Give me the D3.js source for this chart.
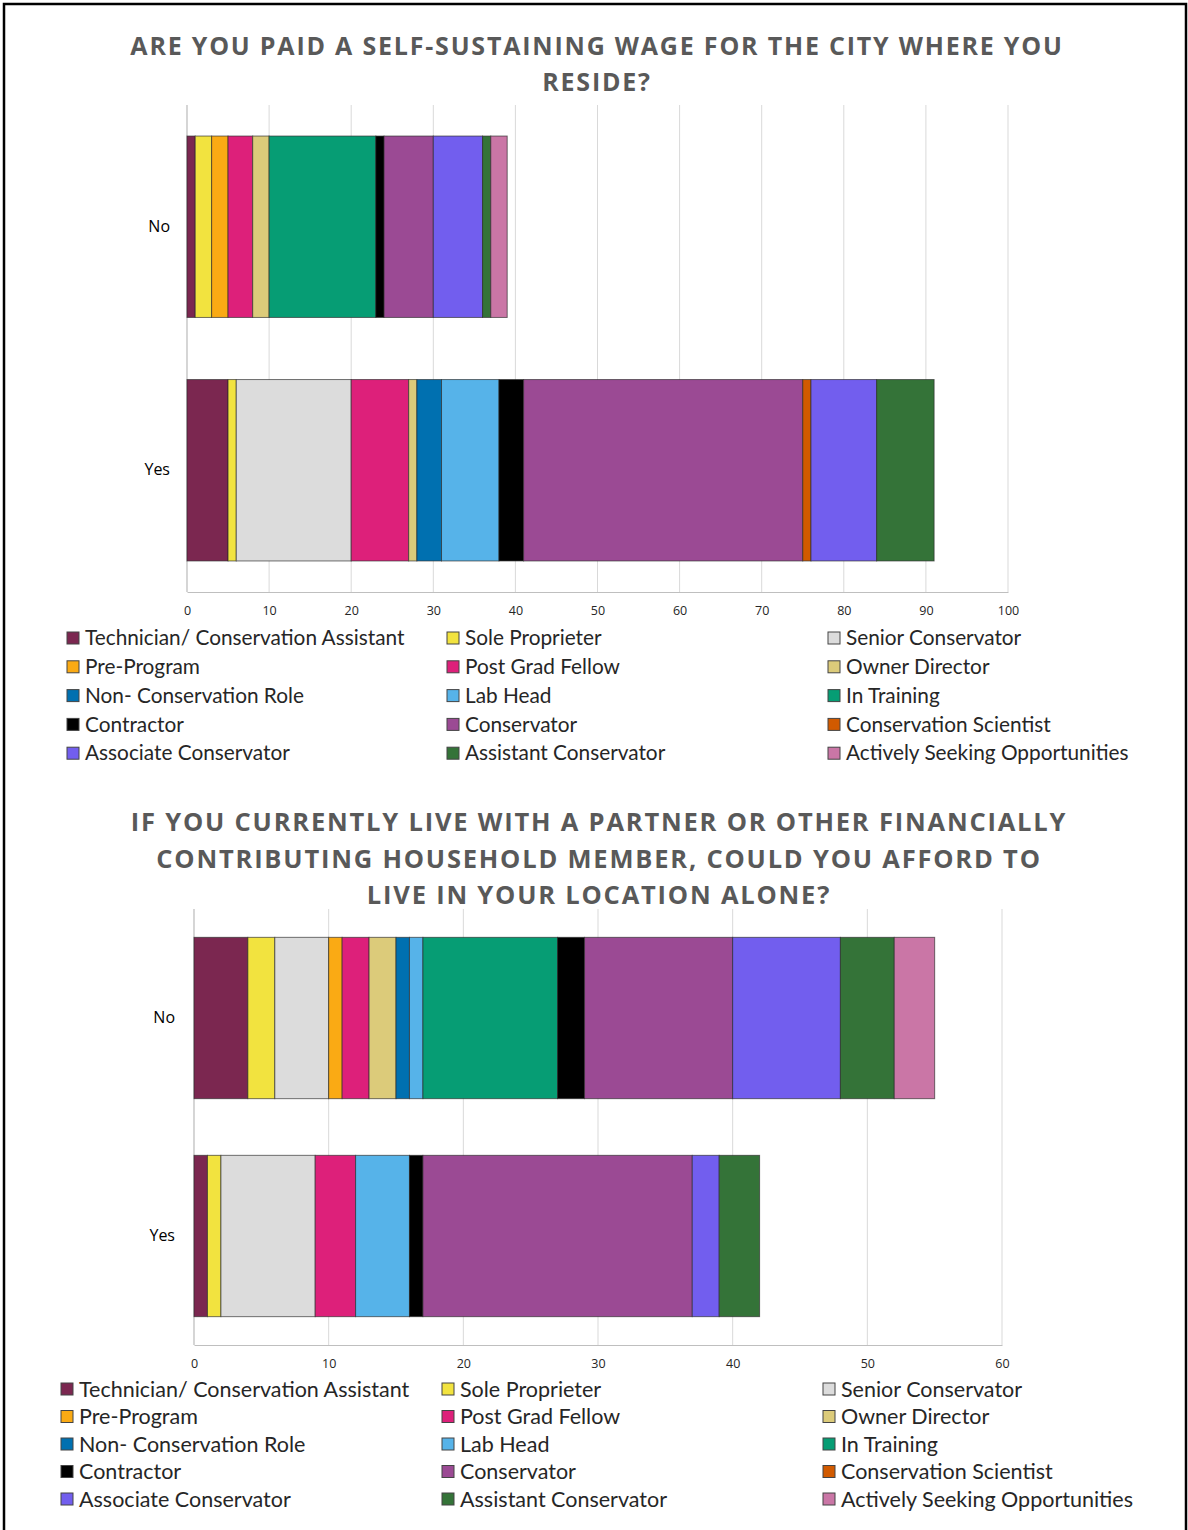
<!DOCTYPE html>
<html>
<head>
<meta charset="utf-8">
<script src="https://cdn.jsdelivr.net/npm/d3@7"></script>
<style>
  html, body { margin: 0; padding: 0; background: #fff; }
  svg { display: block; }
  .title { font-family: "Open Sans", sans-serif; font-weight: 700; fill: #595959; }
  .tick text { font-family: "Open Sans", sans-serif; }
  .legend text { font-family: Lato, "Open Sans", sans-serif; fill: #262626; }
</style>
</head>
<body>
<script>
// Job roles, in stacking / legend order
const roles = [
  "Technician/ Conservation Assistant", "Sole Proprieter", "Senior Conservator",
  "Pre-Program", "Post Grad Fellow", "Owner Director",
  "Non- Conservation Role", "Lab Head", "In Training",
  "Contractor", "Conservator", "Conservation Scientist",
  "Associate Conservator", "Assistant Conservator", "Actively Seeking Opportunities"
];
const roleColors = [
  "#7b2750", "#f2e33f", "#dcdcdc",
  "#faaa14", "#dd207a", "#dccb7a",
  "#0070b0", "#56b3e9", "#069d74",
  "#000000", "#9b4a94", "#d15a00",
  "#725eee", "#347338", "#ca76a6"
];
const answers = ["No", "Yes"];

// Q1: paid a self-sustaining wage
const wageNo  = [1, 2, 0, 2, 3, 2, 0, 0, 13, 1, 6, 0, 6, 1, 2];
const wageYes = [5, 1, 14, 0, 7, 1, 3, 7, 0, 3, 34, 1, 8, 7, 0];
const wageTicks = [0, 10, 20, 30, 40, 50, 60, 70, 80, 90, 100];
const wageTitle = ["ARE YOU PAID A SELF-SUSTAINING WAGE FOR THE CITY WHERE YOU", "RESIDE?"];

// Q2: could afford to live alone
const aloneNo  = [4, 2, 4, 1, 2, 2, 1, 1, 10, 2, 11, 0, 8, 4, 3];
const aloneYes = [1, 1, 7, 0, 3, 0, 0, 4, 0, 1, 20, 0, 2, 3, 0];
const aloneTicks = [0, 10, 20, 30, 40, 50, 60];
const aloneTitle = [
  "IF YOU CURRENTLY LIVE WITH A PARTNER OR OTHER FINANCIALLY",
  "CONTRIBUTING HOUSEHOLD MEMBER, COULD YOU AFFORD TO",
  "LIVE IN YOUR LOCATION ALONE?"
];

const W = 1188, H = 1530;
const svg = d3.select("body").append("svg").attr("width", W).attr("height", H);

// page frame
svg.append("rect").attr("x", 4).attr("y", 4).attr("width", 1182).attr("height", 1540)
  .attr("fill", "none").attr("stroke", "#000").attr("stroke-width", 2.5);

const color = d3.scaleOrdinal().domain(roles).range(roleColors);

function drawChart(cfg) {
  const g = svg.append("g");

  // title
  g.append("g").selectAll("text").data(cfg.title).join("text")
    .attr("class", "title")
    .attr("x", cfg.titleX)
    .attr("y", (d, i) => cfg.titleY + i * cfg.titleLine)
    .attr("text-anchor", "middle")
    .attr("font-size", cfg.titleSize)
    .attr("letter-spacing", cfg.titleSpacing)
    .text(d => d);

  const x = d3.scaleLinear().domain([0, cfg.max]).range([cfg.x0, cfg.x1]);
  const y = d3.scaleBand().domain(answers).range([cfg.y0, cfg.y1])
    .paddingInner(cfg.pad).paddingOuter(cfg.pad / 2);

  // vertical gridlines
  g.append("g").selectAll("line").data(cfg.ticks).join("line")
    .attr("x1", d => x(d)).attr("x2", d => x(d))
    .attr("y1", cfg.y0).attr("y2", cfg.y1)
    .attr("stroke", "#d9d9d9").attr("stroke-width", 1);

  // x axis with labels only
  const xAxis = g.append("g").attr("transform", `translate(0,${cfg.y1})`)
    .call(d3.axisBottom(x).tickValues(cfg.ticks).tickSize(0).tickPadding(cfg.tickPad));
  xAxis.select(".domain").attr("stroke", "#bfbfbf");
  xAxis.selectAll(".tick text").attr("font-size", 12.5).attr("fill", "#262626");

  // left axis line
  g.append("line").attr("x1", cfg.x0).attr("x2", cfg.x0)
    .attr("y1", cfg.y0).attr("y2", cfg.y1).attr("stroke", "#bfbfbf");

  // category labels
  const yAxis = g.append("g").attr("transform", `translate(${cfg.x0},0)`)
    .call(d3.axisLeft(y).tickSize(0).tickPadding(cfg.catPad));
  yAxis.select(".domain").remove();
  yAxis.selectAll(".tick text").attr("font-size", 16).attr("fill", "#000");

  // stacked bars
  const rows = answers.map((a, i) => {
    const o = { answer: a };
    roles.forEach((r, j) => { o[r] = cfg.series[i][j]; });
    return o;
  });
  const stack = d3.stack().keys(roles)(rows);
  g.append("g").selectAll("g").data(stack).join("g")
    .attr("fill", d => color(d.key))
    .selectAll("rect").data(d => d.filter(p => p[1] > p[0])).join("rect")
    .attr("x", d => x(d[0]))
    .attr("y", d => y(d.data.answer))
    .attr("width", d => x(d[1]) - x(d[0]))
    .attr("height", y.bandwidth())
    .attr("stroke", "rgba(40,40,40,0.65)")
    .attr("stroke-width", 1);

  // legend
  const leg = g.append("g").attr("class", "legend");
  const items = leg.selectAll("g").data(roles).join("g")
    .attr("transform", (d, i) =>
      `translate(${cfg.legCols[i % 3]},${cfg.legY + Math.floor(i / 3) * cfg.legRow})`);
  items.append("rect")
    .attr("x", 0).attr("y", -6).attr("width", 12).attr("height", 12)
    .attr("fill", d => color(d))
    .attr("stroke", "#444").attr("stroke-width", 1);
  items.append("text")
    .attr("x", 18).attr("y", 0).attr("dy", "0.35em")
    .attr("font-size", cfg.legSize)
    .text(d => d);
}

drawChart({
  title: wageTitle, titleX: 597, titleY: 55, titleLine: 36, titleSize: 25, titleSpacing: 1.8,
  max: 100, ticks: wageTicks, series: [wageNo, wageYes],
  x0: 187, x1: 1008, y0: 105, y1: 592, pad: 0.255, tickPad: 14, catPad: 17,
  legCols: [67, 447, 828], legY: 638, legRow: 28.8, legSize: 20.8
});

drawChart({
  title: aloneTitle, titleX: 599, titleY: 831, titleLine: 36.5, titleSize: 25.5, titleSpacing: 1.8,
  max: 60, ticks: aloneTicks, series: [aloneNo, aloneYes],
  x0: 194, x1: 1002, y0: 909, y1: 1345, pad: 0.26, tickPad: 14, catPad: 19,
  legCols: [61, 442, 823], legY: 1389, legRow: 27.5, legSize: 21.5
});
</script>
</body>
</html>
